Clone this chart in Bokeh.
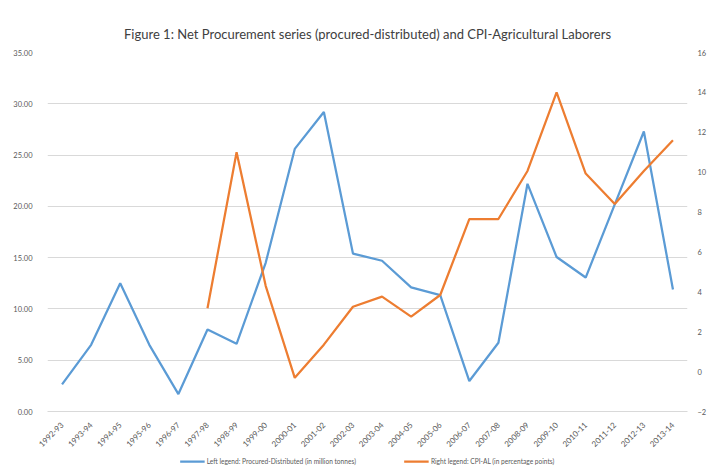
import math
from bokeh.plotting import figure
from bokeh.layouts import column
from bokeh.models import (FactorRange, Range1d, LinearAxis, SingleIntervalTicker,
                          Legend, LegendItem, NumeralTickFormatter)
from bokeh.embed import file_html
from bokeh.resources import INLINE

years = ["1992-93", "1993-94", "1994-95", "1995-96", "1996-97", "1997-98", "1998-99",
         "1999-00", "2000-01", "2001-02", "2002-03", "2003-04", "2004-05", "2005-06",
         "2006-07", "2007-08", "2008-09", "2009-10", "2010-11", "2011-12", "2012-13",
         "2013-14"]
procured_distributed = [2.65, 6.5, 12.5, 6.5, 1.7, 8.0, 6.6, 14.5, 25.6, 29.2, 15.4,
                        14.7, 12.1, 11.35, 2.97, 6.7, 22.2, 15.06, 13.06, 20.2, 27.3, 11.9]
cpi_years = years[5:]
cpi_al = [3.18, 11.0, 4.3, -0.31, 1.35, 3.25, 3.76, 2.76, 3.84, 7.65, 7.65, 10.06,
          14.0, 9.93, 8.4, 10.06, 11.6]
series_names = ["Left legend: Procured-Distributed (in million tonnes)",
                "Right legend: CPI-AL (in percentage points)"]

FONT = "Lato"
GREY = "#595959"
GRID = "#d9d9d9"
BLUE = "#5B9BD5"
ORANGE = "#ED7D31"

p = figure(width=709, height=452,
           x_range=FactorRange(*years, range_padding=0),
           y_range=Range1d(0, 35),
           output_backend="svg", toolbar_location=None,
           min_border_left=47, min_border_right=11, min_border_top=52,
           min_border_bottom=39,
           title="Figure 1: Net Procurement series (procured-distributed) and CPI-Agricultural Laborers")
p.outline_line_color = None
p.title.align = "center"
p.title.text_font = FONT
p.title.text_font_style = "normal"
p.title.text_font_size = "13px"
p.title.text_color = "#404040"
p.title.standoff = 22

p.extra_y_ranges = {"right": Range1d(-2, 16)}

p.yaxis.ticker = SingleIntervalTicker(interval=5)
p.yaxis.formatter = NumeralTickFormatter(format="0.00")
for ax in p.yaxis:
    ax.axis_line_color = None
    ax.major_tick_line_color = None
    ax.minor_tick_line_color = None
    ax.major_label_text_font = FONT
    ax.major_label_text_font_size = "7.5px"
    ax.major_label_text_color = GREY
    ax.major_label_standoff = 9

right = LinearAxis(y_range_name="right", ticker=SingleIntervalTicker(interval=2))
right.axis_line_color = None
right.major_tick_line_color = None
right.minor_tick_line_color = None
right.major_label_text_font = FONT
right.major_label_text_font_size = "7.5px"
right.major_label_text_color = GREY
right.major_label_standoff = 4
p.add_layout(right, "right")

p.xaxis.axis_line_color = GRID
p.xaxis.major_tick_line_color = None
p.xaxis.minor_tick_line_color = None
p.xaxis.major_label_orientation = math.pi / 4
p.xaxis.major_label_text_font = FONT
p.xaxis.major_label_text_font_size = "8px"
p.xaxis.major_label_text_color = GREY
p.xaxis.major_label_standoff = 6

p.xgrid.grid_line_color = None
p.ygrid.grid_line_color = GRID

p.line(years, procured_distributed, line_color=BLUE, line_width=2.25)
p.line(cpi_years, cpi_al, line_color=ORANGE, line_width=2.25, y_range_name="right")

# legend strip below the chart (series drawn off-view, only the legend shows)
lg = figure(width=709, height=18, x_range=FactorRange(*years), y_range=Range1d(100, 101),
            output_backend="svg", toolbar_location=None,
            min_border_left=0, min_border_right=0, min_border_top=0, min_border_bottom=0)
lg.axis.visible = False
lg.grid.grid_line_color = None
lg.outline_line_color = None
k1 = lg.line(years, procured_distributed, line_color=BLUE, line_width=2.25)
k2 = lg.line(cpi_years, cpi_al, line_color=ORANGE, line_width=2.25)
legend = Legend(items=[LegendItem(label=series_names[0], renderers=[k1]),
                       LegendItem(label=series_names[1], renderers=[k2])],
                orientation="horizontal", location="center")
legend.label_text_font = FONT
legend.label_text_font_size = "6.6px"
legend.label_text_color = GREY
legend.border_line_color = None
legend.background_fill_alpha = 0
legend.glyph_width = 25
legend.glyph_height = 8
legend.label_standoff = 2
legend.label_height = 8
legend.spacing = 48
legend.padding = 0
legend.margin = 0
lg.add_layout(legend)

layout = column(p, lg, spacing=0)
open("out.html", "w").write(file_html(layout, INLINE))
